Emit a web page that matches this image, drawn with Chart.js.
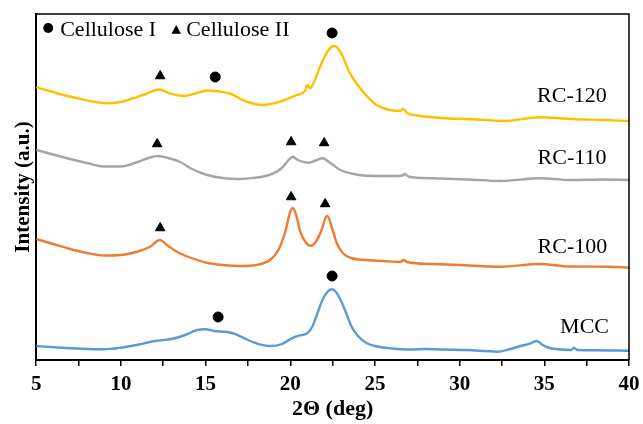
<!DOCTYPE html>
<html>
<head>
<meta charset="utf-8">
<script src="https://cdn.jsdelivr.net/npm/chart.js@4.4.1/dist/chart.umd.min.js"></script>
<style>
  body { margin: 0; background: #fff; }
  #wrap { width: 643px; height: 424px; }
</style>
</head>
<body>
<div id="wrap"><canvas id="xrdChart"></canvas></div>
<script>
// 2θ (deg) and stacked intensity (a.u.)
const rc120Theta = [5, 6, 6.6, 7.5, 8.5, 9.2, 10, 10.6, 11.4, 12.25, 12.9, 13.7, 14.4, 15.1, 15.8, 16.5, 17.4, 18.4, 19.4, 20.4, 20.88, 21.0, 21.17, 21.5, 21.76, 22.26, 22.59, 22.95, 23.53, 24.3, 25.1, 25.9, 26.5, 26.68, 26.9, 27.5, 29.2, 31, 32.6, 34.75, 36.6, 38.5, 40];
const rc120Intensity = [272.7, 268, 265, 261.5, 258, 256.7, 258, 261, 265.5, 270.5, 266.7, 264, 266.5, 269.5, 268.5, 266, 258.5, 255, 258.3, 265, 269.3, 275, 271.7, 282, 293.3, 310, 314, 308.3, 286.7, 268.3, 255, 250, 249, 251, 247, 244.5, 241.7, 240.5, 239, 242.7, 241, 240, 239];

const rc110Theta = [5, 6, 7, 8, 9, 10, 11, 11.7, 12.2, 12.8, 13.5, 14.2, 15, 16, 17, 17.6, 18.4, 19, 19.5, 19.9, 20.13, 20.5, 21.1, 21.5, 21.9, 22.4, 22.95, 23.6, 24.3, 25.5, 26.6, 26.75, 27, 28.4, 30.5, 32.4, 34.75, 36.5, 38.5, 40];
const rc110Intensity = [210, 205.5, 201, 197, 193.5, 193.5, 198, 202.5, 204, 202, 198, 191, 185.5, 182, 181, 181.7, 183.5, 186.7, 192, 200, 203.3, 199.5, 197.3, 199.5, 201.7, 196.5, 190, 186.5, 184.5, 184, 184.3, 186, 183.3, 181.7, 180.5, 179, 181.7, 180, 180.5, 180];

const rc100Theta = [5, 6, 7, 8, 9, 10, 11, 11.7, 12.3, 12.8, 13.3, 14, 15, 16, 17, 18, 18.8, 19.3, 19.7, 20.0, 20.15, 20.35, 20.6, 20.9, 21.2, 21.5, 21.85, 22.1, 22.2, 22.45, 22.75, 23.1, 23.6, 24.5, 25.5, 26.5, 26.7, 26.9, 28.4, 30, 32.4, 34.75, 36.5, 38.9, 40];
const rc100Intensity = [121, 116, 111, 107, 104.5, 105, 108.5, 113, 120, 114, 108.3, 103, 97.5, 95, 94, 95, 100, 110, 128, 148, 152, 145, 128, 118, 114.3, 118, 130, 143, 144, 133, 116.7, 107, 102, 100, 99, 98, 100, 98, 96, 95, 93.3, 96, 93.5, 93.3, 92.3];

const mccTheta = [5, 6.5, 8, 9, 10, 11, 12, 13, 13.8, 14.5, 15, 15.5, 16.3, 16.8, 17.5, 18.2, 18.8, 19.5, 20.1, 20.5, 21.0, 21.3, 21.6, 21.9, 22.2, 22.45, 22.7, 23.0, 23.3, 23.6, 24.0, 24.5, 25, 26, 27, 28, 29, 30.4, 31.5, 32.2, 33, 33.6, 34.2, 34.55, 34.9, 35.3, 36, 36.6, 36.75, 36.95, 38, 40];
const mccIntensity = [14, 12.3, 11, 10.7, 12.3, 15.3, 19, 21, 25, 30, 30.7, 29, 28, 25.7, 20, 15.7, 14, 16, 21.7, 24.3, 26.7, 33.3, 46.7, 60, 68.3, 70.7, 68, 59, 47, 34, 24, 17, 14, 11.5, 10.5, 11, 10.5, 10, 9, 8.3, 11, 14, 16.7, 19, 15, 12, 10.5, 10, 12.3, 10, 9.8, 9.3];

// peak assignments
const celluloseITheta = [15.57, 22.47, 15.74, 22.47];
const celluloseIHeight = [283, 327, 43, 84];
const celluloseIITheta = [12.32, 12.14, 20.05, 22.0, 12.32, 20.05, 22.06];
const celluloseIIHeight = [284, 216, 218, 217, 132, 163, 156];

const sampleNames = ['RC-120', 'RC-110', 'RC-100', 'MCC'];
const sampleColors = ['#FFC000', '#A5A5A5', '#ED7D31', '#5B9BD5'];
const xTickLabels = [5, 10, 15, 20, 25, 30, 35, 40];

function toPoints(xs, ys) {
    return xs.map((v, i) => ({ x: v, y: ys[i] }));
}

const curves = [
    toPoints(rc120Theta, rc120Intensity),
    toPoints(rc110Theta, rc110Intensity),
    toPoints(rc100Theta, rc100Intensity),
    toPoints(mccTheta, mccIntensity)
];

// where the sample names sit, in axis units
const nameSpots = [[34.57, 258.3], [34.6, 196], [34.6, 106.7], [35.93, 27.3]];

function drawTriangle(ctx, cx, cy, r) {
    ctx.beginPath();
    ctx.moveTo(cx, cy - r);
    ctx.lineTo(cx + r * 0.95, cy + r * 0.75);
    ctx.lineTo(cx - r * 0.95, cy + r * 0.75);
    ctx.closePath();
    ctx.fill();
}

function stretchText(ctx, text, px, py) {
    ctx.save();
    ctx.translate(px, py);
    ctx.scale(1.1, 1);
    ctx.fillText(text, 0, 0);
    ctx.restore();
}

const decorations = {
    id: 'decorations',
    afterDraw(chart) {
        const ctx = chart.ctx;
        const a = chart.chartArea;
        const x = chart.scales.x;
        const y = chart.scales.y;
        ctx.save();

        // top and right side of the frame
        ctx.strokeStyle = '#000';
        ctx.lineWidth = 1.5;
        ctx.beginPath();
        ctx.moveTo(a.left, a.top);
        ctx.lineTo(a.right, a.top);
        ctx.lineTo(a.right, a.bottom);
        ctx.stroke();

        ctx.fillStyle = '#000';
        ctx.font = '20px "Liberation Serif", "Times New Roman", serif';
        ctx.textBaseline = 'alphabetic';

        // sample names
        sampleNames.forEach((name, i) => {
            stretchText(ctx, name, x.getPixelForValue(nameSpots[i][0]), y.getPixelForValue(nameSpots[i][1]));
        });

        // legend for the peak markers
        ctx.beginPath();
        ctx.arc(a.left + 12, a.top + 14, 5, 0, Math.PI * 2);
        ctx.fill();
        stretchText(ctx, 'Cellulose I', a.left + 24, a.top + 22);
        drawTriangle(ctx, a.left + 140, a.top + 16, 5);
        stretchText(ctx, 'Cellulose II', a.left + 150, a.top + 22);

        ctx.restore();
    }
};

const datasets = [];
// markers first so they are drawn on top
datasets.push({
    label: 'Cellulose I',
    data: toPoints(celluloseITheta, celluloseIHeight),
    showLine: false,
    pointStyle: 'circle',
    pointRadius: 5,
    backgroundColor: '#000',
    borderColor: '#000',
    order: 0
});
datasets.push({
    label: 'Cellulose II',
    data: toPoints(celluloseIITheta, celluloseIIHeight),
    showLine: false,
    pointStyle: 'triangle',
    pointRadius: 5.5,
    backgroundColor: '#000',
    borderColor: '#000',
    order: 0
});
sampleNames.forEach((name, i) => {
    datasets.push({
        label: name,
        data: curves[i],
        borderColor: sampleColors[i],
        borderWidth: 2.4,
        pointRadius: 0,
        cubicInterpolationMode: 'monotone',
        fill: false,
        order: 1
    });
});

const ctx = document.getElementById('xrdChart').getContext('2d');
new Chart(ctx, {
    type: 'line',
    data: { datasets: datasets },
    options: {
        responsive: true,
        maintainAspectRatio: false,
        animation: false,
        layout: { padding: { left: 3, right: 14, top: 14, bottom: 7.8 } },
        plugins: {
            legend: { display: false },
            tooltip: { enabled: false }
        },
        scales: {
            x: {
                type: 'linear',
                min: 5,
                max: 40,
                ticks: {
                    stepSize: 2.5,
                    autoSkip: false,
                    maxRotation: 0,
                    padding: 3,
                    color: '#000',
                    font: { family: '"Liberation Serif", "Times New Roman", serif', size: 21, weight: 'bold', lineHeight: 1.476 },
                    callback: (v) => xTickLabels.includes(v) ? String(v) : ''
                },
                grid: { drawOnChartArea: false, drawTicks: true, tickLength: 6, color: '#000', lineWidth: 1.5 },
                border: { color: '#000', width: 2 },
                title: {
                    display: true,
                    text: '2Θ (deg)',
                    color: '#000',
                    padding: 0,
                    font: { family: '"Liberation Serif", "Times New Roman", serif', size: 22, weight: 'bold', lineHeight: 0.6 }
                }
            },
            y: {
                min: 0,
                max: 346,
                ticks: { display: false },
                grid: { display: false, drawTicks: false },
                border: { color: '#000', width: 2 },
                title: {
                    display: true,
                    text: 'Intensity (a.u.)',
                    color: '#000',
                    padding: { top: 8, bottom: 0 },
                    font: { family: '"Liberation Serif", "Times New Roman", serif', size: 21, weight: 'bold', lineHeight: 1.2 }
                }
            }
        }
    },
    plugins: [decorations]
});
</script>
</body>
</html>
